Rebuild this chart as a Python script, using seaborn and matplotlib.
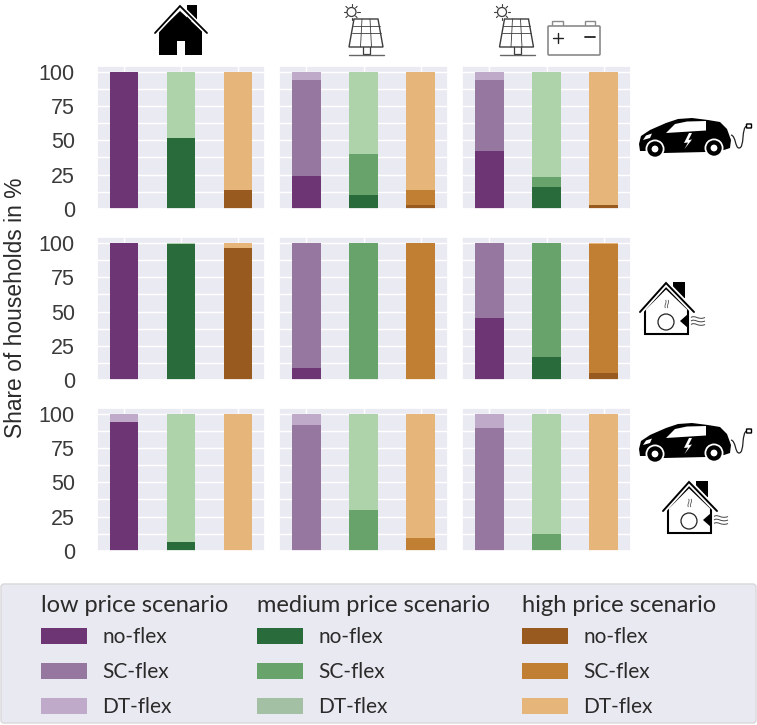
import matplotlib
matplotlib.use('Agg')
import matplotlib.pyplot as plt
from matplotlib.patches import Circle, FancyBboxPatch, Patch, PathPatch, Polygon, Rectangle
from matplotlib.path import Path
import pandas as pd
import seaborn as sns

# Values per panel, row by row (building type) and column by column (supply type)
noflex_low = [100, 24, 42, 100, 9, 45, 94, 0, 0]
scflex_low = [0, 70, 52, 0, 91, 55, 0, 92, 90]
dtflex_low = [0, 6, 6, 0, 0, 0, 6, 8, 10]
noflex_med = [52, 10, 16, 99, 0, 17, 6, 0, 0]
scflex_med = [0, 30, 7, 0, 100, 83, 0, 30, 12]
dtflex_med = [48, 60, 77, 1, 0, 0, 94, 70, 88]
noflex_high = [14, 2.5, 3, 96, 0, 5, 0, 0, 0]
scflex_high = [0, 11.5, 0, 0, 100, 94, 0, 9, 0]
dtflex_high = [86, 86, 97, 4, 0, 1, 100, 91, 100]

scenarios = ['low', 'medium', 'high']
flex_types = ['no-flex', 'SC-flex', 'DT-flex']
legend_titles = ['low price scenario', 'medium price scenario', 'high price scenario']
y_ticks = [0, 25, 50, 75, 100]

colors = {
    'low': ['#6e3575', '#9577a0', '#c0aaca'],
    'medium': ['#2a6b3c', '#68a36c', '#aed2aa'],
    'high': ['#995a20', '#c07f33', '#e6b57a'],
}
legend_colors = {
    'low': ['#6e3575', '#9577a0', '#c0aaca'],
    'medium': ['#2a6b3c', '#68a36c', '#a3bfa4'],
    'high': ['#995a20', '#c07f33', '#e6b57a'],
}

# Build one long table
series = {
    'low': [noflex_low, scflex_low, dtflex_low],
    'medium': [noflex_med, scflex_med, dtflex_med],
    'high': [noflex_high, scflex_high, dtflex_high],
}
rows = []
for scenario in scenarios:
    for flex, values in zip(flex_types, series[scenario]):
        for i, share in enumerate(values):
            rows.append({'panel': i, 'scenario': scenario, 'flex': flex, 'share': share})
df = pd.DataFrame(rows)
df['top'] = df.groupby(['panel', 'scenario'])['share'].cumsum()

sns.set_theme(style='darkgrid')
plt.rcParams['font.family'] = 'Liberation Sans'

W, H = 757, 725
fig = plt.figure(figsize=(W / 100, H / 100), dpi=100)

col_edges = [(97, 265), (279, 448), (462, 631)]
row_edges = [(65.7, 208.7), (236.7, 380), (407.7, 550.7)]

for i in range(9):
    r, c = divmod(i, 3)
    x0, x1 = col_edges[c]
    y0, y1 = row_edges[r]
    ax = fig.add_axes([x0 / W, 1 - y1 / H, (x1 - x0) / W, (y1 - y0) / H])
    panel = df[df['panel'] == i]
    # stacked bars: tallest layer first, the lower ones painted over it
    for k in [2, 1, 0]:
        layer = panel[panel['flex'] == flex_types[k]]
        palette = {s: colors[s][k] for s in scenarios}
        sns.barplot(data=layer, x='scenario', y='top', hue='scenario', order=scenarios,
                    hue_order=scenarios, palette=palette, dodge=False, width=0.5,
                    saturation=1, linewidth=0, legend=False, ax=ax)
    ax.set_xlim(-0.474, 2.474)
    ax.set_ylim(0, 104.6)
    ax.set_yticks(y_ticks)
    ax.set_yticks([12.5, 37.5, 62.5, 87.5], minor=True)
    ax.grid(True, which='both', axis='y', color='white', linewidth=1)
    ax.grid(True, which='major', axis='x', color='white', linewidth=1)
    ax.set_xlabel('')
    ax.set_ylabel('')
    ax.set_xticklabels([])
    ax.tick_params(which='both', length=0)
    if c == 0:
        ax.tick_params(axis='y', labelsize=15.5, pad=16, labelcolor='#3a3a3a')
    else:
        ax.set_yticklabels([])

fig.text(16 / W, 1 - 308 / H, 'Share of households in %', rotation=90, ha='center', va='center',
         fontsize=16.4, color='#2b2b2b')

# Overlay in pixel coordinates for legend box and icons
ov = fig.add_axes([0, 0, 1, 1], zorder=5)
ov.patch.set_visible(False)
ov.axis('off')
ov.add_patch(FancyBboxPatch((3, 586), 751, 135, boxstyle='round,pad=2,rounding_size=3',
                            facecolor='#e9e9f1', edgecolor='#d8d8dc', linewidth=1))

# Legends, one per price scenario
legend_x = [41, 257, 522]
for x, scenario, title in zip(legend_x, scenarios, legend_titles):
    handles = [Patch(facecolor=col, edgecolor='none') for col in legend_colors[scenario]]
    leg = fig.legend(handles, flex_types, loc='upper left',
                     bbox_to_anchor=(x / W, 1 - 627 / H), frameon=False, borderpad=0,
                     borderaxespad=0, prop={'family': 'Lato', 'size': 15},
                     handlelength=2.2, handleheight=0.8, handletextpad=0.75, labelspacing=0.73,
                     labelcolor='#2b2b2b')
    leg.set_zorder(10)
    fig.text(x / W, 1 - 606 / H, title, ha='left', va='center', family='Lato', fontsize=17,
             color='#2b2b2b', zorder=10)


def draw_plain_house():
    ov.add_patch(Rectangle((187, 5), 10, 16, color='black', lw=0))
    ov.add_patch(Polygon([(180, 11), (159, 31), (159, 55), (177, 55), (177, 41), (185, 41),
                          (185, 55), (202, 55), (202, 31)], closed=True, color='black', lw=0))
    ov.plot([155, 180, 207], [33, 6, 33], color='white', lw=3.6, solid_joinstyle='miter')
    ov.plot([155, 180, 207], [33, 6, 33], color='black', lw=1.3, solid_joinstyle='miter')


def draw_panel(dx):
    col = '#3c3c3c'
    ov.add_patch(Polygon([(354 + dx, 19), (378 + dx, 19), (383 + dx, 47), (349 + dx, 47)],
                         closed=True, fill=False, ec=col, lw=1))
    ov.plot([351.5 + dx, 380.5 + dx], [33, 33], color=col, lw=0.6)
    ov.plot([352.5 + dx, 379.5 + dx], [26, 26], color=col, lw=0.6)
    ov.plot([362 + dx, 360.5 + dx], [19, 47], color=col, lw=0.6)
    ov.plot([370 + dx, 371.5 + dx], [19, 47], color=col, lw=0.6)
    ov.plot([363 + dx, 363 + dx, 370 + dx, 370 + dx], [47, 54, 54, 47], color=col, lw=0.9)
    ov.plot([349 + dx, 384 + dx], [54.5, 54.5], color='#666666', lw=1)
    sx, sy = 351.5 + dx, 12
    ov.add_patch(Circle((sx, sy), 4.5, fill=False, ec=col, lw=0.9))
    for ddx, ddy in [(1, 0), (-1, 0), (0, 1), (0, -1), (.7, .7), (-.7, .7), (.7, -.7), (-.7, -.7)]:
        ov.plot([sx + 5.8 * ddx, sx + 8 * ddx], [sy + 5.8 * ddy, sy + 8 * ddy], color=col, lw=0.8)


def draw_battery():
    col = '#8a8a8a'
    ov.add_patch(Rectangle((552, 21), 11, 5.5, fill=False, ec=col, lw=1))
    ov.add_patch(Rectangle((585, 21), 10, 5.5, fill=False, ec=col, lw=1))
    ov.add_patch(FancyBboxPatch((548, 26), 52, 29, boxstyle='round,pad=0,rounding_size=1',
                                facecolor='white', edgecolor=col, lw=1.2))
    ov.plot([553, 563], [38, 38], color='#222222', lw=1)
    ov.plot([558, 558], [33, 43], color='#222222', lw=1)
    ov.plot([585, 595], [37, 37], color='#222222', lw=1.3)


def draw_car(dy):
    body = [(639, 144), (641, 136), (650, 130), (666, 123), (678, 119), (692, 118), (708, 120),
            (720, 122), (727, 129), (731, 140), (730, 148), (724, 150), (706, 152), (664, 153),
            (646, 151), (640, 151)]
    ov.add_patch(Polygon([(x, y + dy) for x, y in body], closed=True, color='black', lw=0))
    win = [(666, 133), (675, 124), (687, 121.5), (706, 121), (706, 130.5)]
    ov.add_patch(Polygon([(x, y + dy) for x, y in win], closed=True, color='white', lw=0))
    light = [(643, 140), (646, 135.5), (652, 133.5), (650, 138)]
    ov.add_patch(Polygon([(x, y + dy) for x, y in light], closed=True, color='white', lw=0))
    bolt = [(689, 133), (684, 143), (688, 142.5), (684.5, 149), (692, 139.5), (688.5, 140), (692, 133)]
    ov.add_patch(Polygon([(x, y + dy) for x, y in bolt], closed=True, color='white', lw=0))
    for cx, cy in [(655, 149), (714, 148)]:
        ov.add_patch(Circle((cx, cy + dy), 9.5, color='white', lw=0))
        ov.add_patch(Circle((cx, cy + dy), 7.7, color='black', lw=0))
        ov.add_patch(Circle((cx, cy + dy), 3.4, color='white', lw=0))
    cable = Path([(731, 135 + dy), (736, 136 + dy), (735, 148 + dy), (739, 148 + dy),
                  (745, 148 + dy), (741, 127 + dy), (747, 126 + dy)],
                 [Path.MOVETO, Path.CURVE4, Path.CURVE4, Path.CURVE4, Path.CURVE4, Path.CURVE4, Path.CURVE4])
    ov.add_patch(PathPatch(cable, fill=False, ec='#222222', lw=0.9))
    ov.add_patch(FancyBboxPatch((747, 124.5 + dy), 4, 3, boxstyle='round,pad=0.5', fc='white', ec='black', lw=1))


def draw_heat_house(dx, dy):
    ov.add_patch(Rectangle((673 + dx, 282 + dy), 11.5, 16, color='black', lw=0))
    ov.add_patch(Polygon([(645 + dx, 309 + dy), (666 + dx, 288 + dy), (688 + dx, 309 + dy),
                          (688 + dx, 334 + dy), (645 + dx, 334 + dy)], closed=True,
                         fc='white', ec='black', lw=1.5))
    ov.plot([640 + dx, 666 + dx, 694 + dx], [312 + dy, 283 + dy, 312 + dy], color='white', lw=4)
    ov.plot([640 + dx, 666 + dx, 694 + dx], [312 + dy, 283 + dy, 312 + dy], color='black', lw=1.4,
            solid_joinstyle='miter')
    ov.add_patch(Circle((666 + dx, 322 + dy), 8, fill=False, ec='#222222', lw=0.9))
    ov.add_patch(Polygon([(680 + dx, 321 + dy), (688 + dx, 314 + dy), (688 + dx, 328 + dy)],
                         closed=True, color='black', lw=0))
    for off in [317.5, 321, 324.5]:
        wave = Path([(691 + dx, off + dy), (695 + dx, off - 3 + dy), (698 + dx, off + 3 + dy), (705 + dx, off + dy)],
                    [Path.MOVETO, Path.CURVE4, Path.CURVE4, Path.CURVE4])
        ov.add_patch(PathPatch(wave, fill=False, ec='#444444', lw=0.7))
    for off in [665.5, 668]:
        sq = Path([(off + dx, 300 + dy), (off + 2 + dx, 302 + dy), (off - 2 + dx, 306 + dy), (off + dx, 308 + dy)],
                  [Path.MOVETO, Path.CURVE4, Path.CURVE4, Path.CURVE4])
        ov.add_patch(PathPatch(sq, fill=False, ec='#555555', lw=0.6))


draw_plain_house()
draw_panel(0)
draw_panel(150.5)
draw_battery()
draw_car(0)
draw_heat_house(0, 0)
draw_car(305)
draw_heat_house(23, 199)
ov.set_xlim(0, W)
ov.set_ylim(H, 0)

plt.savefig('out.png', dpi=100)
